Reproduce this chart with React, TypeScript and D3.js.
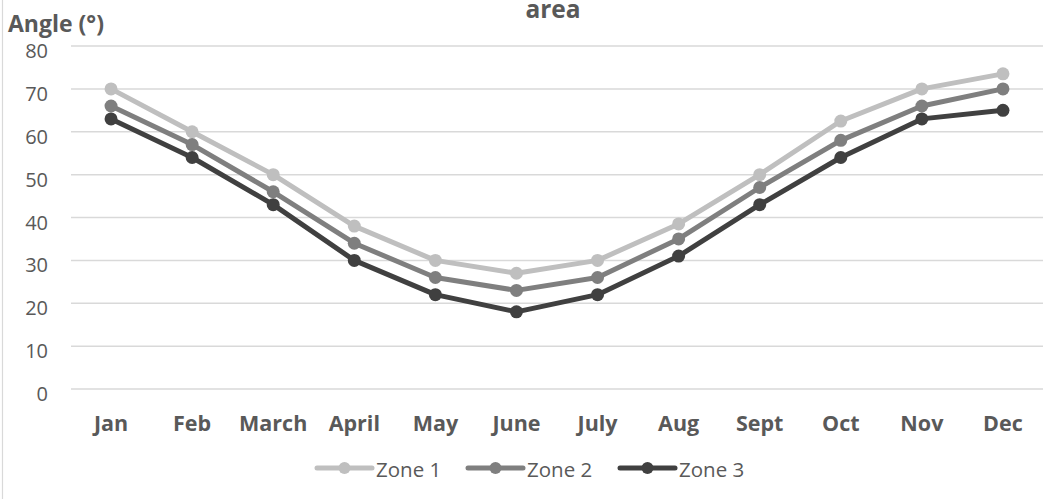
import React from "react";
import * as d3 from "d3";

const months = ["Jan", "Feb", "March", "April", "May", "June", "July", "Aug", "Sept", "Oct", "Nov", "Dec"];
const zone1 = [70, 60, 50, 38, 30, 27, 30, 38.5, 50, 62.5, 70, 73.5];
const zone2 = [66, 57, 46, 34, 26, 23, 26, 35, 47, 58, 66, 70];
const zone3 = [63, 54, 43, 30, 22, 18, 22, 31, 43, 54, 63, 65];
const yTicks = [0, 10, 20, 30, 40, 50, 60, 70, 80];
const seriesNames = ["Zone 1", "Zone 2", "Zone 3"];
const colors = ["#BFBFBF", "#7F7F7F", "#404040"];
const titleText = "area";
const yAxisTitle = "Angle (°)";

const W = 1043;
const H = 499;
const TEXT = "#595959";
const FONT = "'Open Sans', sans-serif";

export default function App() {
  const x = d3.scaleBand<string>().domain(months).range([70.5, 1043.5]);
  const y = d3.scaleLinear().domain([0, 80]).range([389, 46]);
  const cx = (m: string) => (x(m) as number) + x.bandwidth() / 2;
  const series = [zone1, zone2, zone3];
  const line = d3
    .line<number>()
    .x((_, i) => cx(months[i]))
    .y((d) => y(d));

  const legendX = [317, 468, 620];
  const legendY = 468;

  return (
    <svg
      width={W}
      height={H}
      style={{ position: "absolute", left: 0, top: 0, background: "#fff" }}
      fontFamily={FONT}
    >
      <rect x={0} y={0} width={W} height={H} fill="#fff" />
      <line x1={2.5} x2={2.5} y1={0} y2={H} stroke="#D9D9D9" strokeWidth={1.2} />
      <text x={553} y={18} textAnchor="middle" fontSize={24.5} fontWeight="bold" fill={TEXT}>
        {titleText}
      </text>
      <text x={8} y={32} fontSize={23} fontWeight="bold" fill={TEXT}>
        {yAxisTitle}
      </text>
      {yTicks.map((t) => (
        <g key={t}>
          <line x1={71} x2={W} y1={y(t)} y2={y(t)} stroke="#D9D9D9" strokeWidth={1.5} />
          <text x={48} y={y(t) + 12} textAnchor="end" fontSize={20} fill={TEXT}>
            {t}
          </text>
        </g>
      ))}
      {months.map((m) => (
        <text key={m} x={cx(m)} y={431} textAnchor="middle" fontSize={21.5} fontWeight="bold" fill={TEXT}>
          {m}
        </text>
      ))}
      {series.map((s, si) => (
        <g key={si}>
          <path d={line(s) || ""} fill="none" stroke={colors[si]} strokeWidth={5} strokeLinejoin="round" />
          {s.map((v, i) => (
            <circle key={i} cx={cx(months[i])} cy={y(v)} r={6.5} fill={colors[si]} />
          ))}
        </g>
      ))}
      {seriesNames.map((n, i) => (
        <g key={n}>
          <line x1={legendX[i]} x2={legendX[i] + 55} y1={legendY} y2={legendY} stroke={colors[i]} strokeWidth={5} strokeLinecap="round" />
          <circle cx={legendX[i] + 27.5} cy={legendY} r={6} fill={colors[i]} />
          <text x={legendX[i] + 59} y={476.5} fontSize={20.5} fill={TEXT}>
            {n}
          </text>
        </g>
      ))}
    </svg>
  );
}
